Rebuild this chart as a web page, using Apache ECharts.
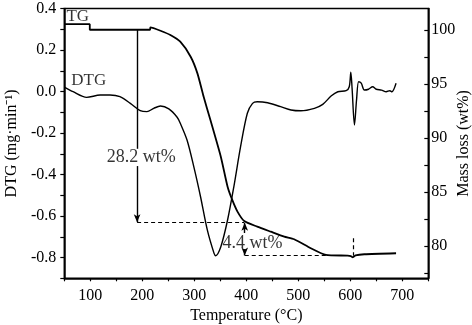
<!DOCTYPE html>
<html><head><meta charset="utf-8">
<script src="https://cdn.jsdelivr.net/npm/echarts@6/dist/echarts.min.js"></script>
<style>html,body{margin:0;padding:0;background:#fff}#c{width:472px;height:325px}</style>
</head><body><div id="c"></div>
<script>
// DTG curve (left axis, mg·min-1)
const dtgTemp  = [51, 67, 93, 119, 138, 157, 177, 196, 209, 222, 235, 251, 267, 273, 286, 299, 312, 325, 338, 341, 351, 364, 376, 389, 402, 412, 421, 441, 466, 486, 505, 531, 547, 563, 576, 592, 598, 601, 603.4, 608, 612, 616, 621, 627, 635, 643, 650, 660, 669, 676, 680, 688];
const dtgValue = [0.020, -0.001, -0.028, -0.017, -0.017, -0.025, -0.057, -0.092, -0.097, -0.081, -0.070, -0.084, -0.124, -0.153, -0.234, -0.362, -0.507, -0.667, -0.780, -0.791, -0.748, -0.619, -0.459, -0.266, -0.105, -0.057, -0.049, -0.054, -0.073, -0.089, -0.093, -0.081, -0.062, -0.022, -0.001, 0.004, 0.023, 0.093, 0.017, -0.161, -0.041, 0.047, 0.040, 0.007, 0.011, 0.023, 0.011, 0.007, -0.001, 0.004, -0.001, 0.040];
// TG curve (right axis, wt%)
const tgTemp = [50, 99, 99, 215, 215.5, 235, 254, 273, 293, 306, 318, 331, 351, 364, 373, 383, 396, 421, 447, 473, 492, 524, 553, 595, 601, 605, 610, 627, 688];
const tgMass = [100.55, 100.55, 100.03, 100.03, 100.25, 99.94, 99.54, 98.92, 97.53, 95.99, 93.82, 91.67, 88.27, 85.49, 84.26, 83.18, 82.31, 81.79, 81.32, 80.86, 80.62, 79.79, 79.17, 79.10, 79.05, 78.95, 79.12, 79.23, 79.32];
// axes
const xTicks = [50, 100, 150, 200, 250, 300, 350, 400, 450, 500, 550, 600, 650, 700, 750];
const xLabels = [100, 200, 300, 400, 500, 600, 700];
const yLeftTicks = [-0.9, -0.8, -0.7, -0.6, -0.5, -0.4, -0.3, -0.2, -0.1, 0, 0.1, 0.2, 0.3, 0.4];
const yLeftLabels = [-0.8, -0.6, -0.4, -0.2, 0, 0.2, 0.4];
const yRightTicks = [77.5, 80, 82.5, 85, 87.5, 90, 92.5, 95, 97.5, 100];
const yRightLabels = [80, 85, 90, 95, 100];
// annotations (temperature, wt%)
const arrowSolid = [ // [T, from, to, headAtEnd]
  [190, 100, 89.0, false],
  [190, 87.4, 82.2, true],
  [397, 81.2, 82.15, true],
  [397, 79.7, 79.12, true]
];
const dashedLines = [ // [[T1, m1], [T2, m2]]
  [[190, 82.2], [396, 82.2]],
  [[397, 79.1], [553, 79.1]],
  [[605, 80.7], [605, 79.1]]
];
const tgTexts = [ // [T, wt%, text]
  [198, 88.2, '28.2 wt%'],
  [412, 80.25, '4.4 wt%']
];
const dtgTexts = [ // [T, DTG, text]
  [76, 0.36, 'TG'],
  [97, 0.052, 'DTG']
];

const FONT = 'Liberation Serif';
const zip = (a, b) => a.map((v, i) => [v, b[i]]);
const axisCommon = {
  axisLine: {show: true, onZero: false, lineStyle: {color: '#000', width: 1.5}},
  splitLine: {show: false},
  axisLabel: {color: '#000', fontFamily: FONT, fontSize: 16},
  nameTextStyle: {color: '#000', fontFamily: FONT, fontSize: 16}
};
const markLineData = [];
arrowSolid.forEach(a => {
  markLineData.push([
    {coord: [a[0], a[1]], symbol: 'none'},
    {coord: [a[0], a[2]], symbol: a[3] ? 'arrow' : 'none', symbolSize: [5, 8]}
  ]);
});
dashedLines.forEach(d => {
  markLineData.push([
    {coord: d[0], symbol: 'none', lineStyle: {type: [4, 3], width: 1.2, color: '#000'}},
    {coord: d[1], symbol: 'none'}
  ]);
});

const chart = echarts.init(document.getElementById('c'), null, {renderer: 'canvas'});
chart.setOption({
  animation: false,
  backgroundColor: '#fff',
  grid: {left: 64.3, right: 43.7, top: 8.5, bottom: 46.7, containLabel: false, outerBoundsMode: 'none',
    show: true, borderColor: '#000', borderWidth: 1.5, backgroundColor: 'transparent'},
  xAxis: Object.assign({}, axisCommon, {
    type: 'value', min: 50, max: 750,
    name: 'Temperature (°C)', nameLocation: 'middle', nameGap: 29,
    axisTick: {show: true, inside: false, length: 3, customValues: xTicks, lineStyle: {color: '#000', width: 1.2}},
    axisLabel: Object.assign({}, axisCommon.axisLabel, {customValues: xLabels, margin: 9})
  }),
  yAxis: [
    Object.assign({}, axisCommon, {
      type: 'value', min: -0.9, max: 0.4, position: 'left',
      name: 'DTG (mg·min⁻¹)', nameLocation: 'middle', nameRotate: 90, nameGap: 44,
      axisTick: {show: true, inside: false, length: 4, customValues: yLeftTicks, lineStyle: {color: '#000', width: 1.2}},
      axisLabel: Object.assign({}, axisCommon.axisLabel, {customValues: yLeftLabels, margin: 8, formatter: v => v.toFixed(1)})
    }),
    Object.assign({}, axisCommon, {
      type: 'value', min: 77, max: 102, position: 'right',
      name: 'Mass loss (wt%)', nameLocation: 'middle', nameRotate: 90, nameGap: 27, nameMoveOverlap: false,
      axisTick: {show: true, inside: true, length: 4, customValues: yRightTicks, lineStyle: {color: '#000', width: 1.2}},
      axisLabel: Object.assign({}, axisCommon.axisLabel, {customValues: yRightLabels, margin: 3})
    })
  ],
  series: [
    {type: 'line', name: 'DTG', yAxisIndex: 0, data: zip(dtgTemp, dtgValue), showSymbol: false, smooth: 0.3,
      lineStyle: {color: '#000', width: 1.4}},
    {type: 'line', name: 'TG', yAxisIndex: 1, data: zip(tgTemp, tgMass), showSymbol: false, smooth: 0.2,
      lineStyle: {color: '#000', width: 1.8}},
    {type: 'line', name: 'ann', yAxisIndex: 1, data: [], silent: true,
      markLine: {silent: true, animation: false, label: {show: false},
        lineStyle: {color: '#000', width: 1.4, type: 'solid'},
        emphasis: {disabled: true}, data: markLineData}},
    {type: 'scatter', yAxisIndex: 1, data: tgTexts.map(t => [t[0], t[1], t[2]]), symbolSize: 1, silent: true,
      itemStyle: {color: 'rgba(0,0,0,0)'},
      label: {show: true, position: 'inside', formatter: p => p.value[2], color: '#000', fontFamily: FONT, fontSize: 18}},
    {type: 'scatter', yAxisIndex: 0, data: dtgTexts.map(t => [t[0], t[1], t[2]]), symbolSize: 1, silent: true,
      itemStyle: {color: 'rgba(0,0,0,0)'},
      label: {show: true, position: 'inside', formatter: p => p.value[2], color: '#000', fontFamily: FONT, fontSize: 17}}
  ]
});
</script>
</body></html>
